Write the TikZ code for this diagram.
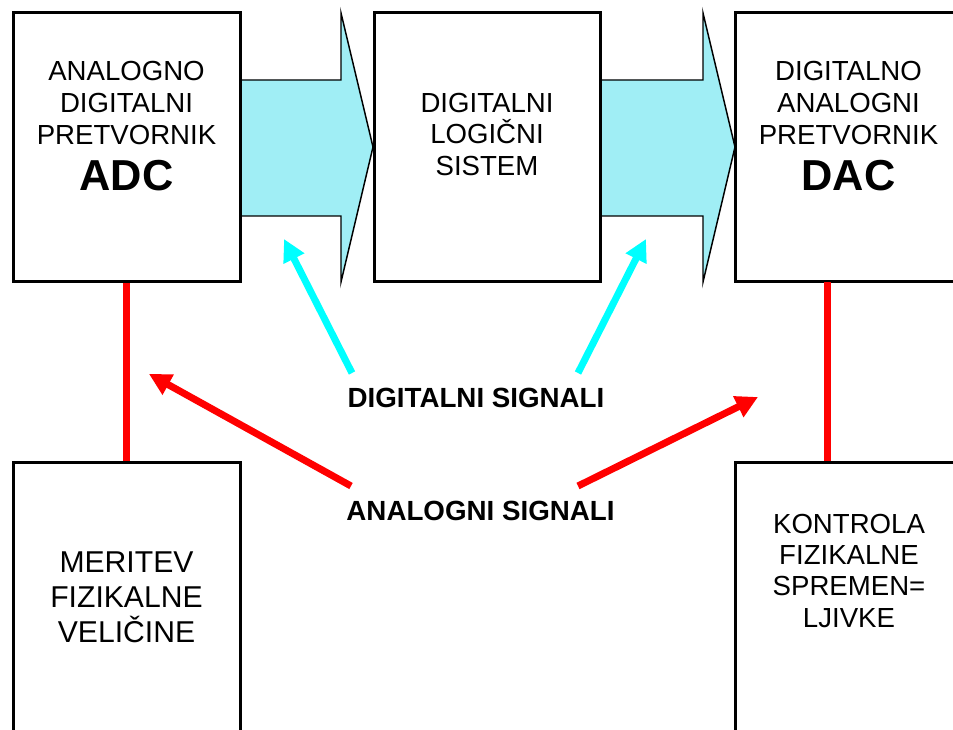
\documentclass[tikz,border=0pt]{standalone}
\usepackage{fontspec}
\setmainfont{Liberation Sans}
\usetikzlibrary{arrows.meta,fit}
\definecolor{arrfill}{RGB}{160,238,245}
\definecolor{pcyan}{RGB}{0,255,255}
\definecolor{pred}{RGB}{255,0,0}
\begin{document}
\begin{tikzpicture}[x=0.75pt,y=-0.75pt,
  box/.style={draw=black,line width=2.25pt,inner sep=0pt,fill=none},
  lbl/.style={inner sep=0pt,anchor=base,font=\fontsize{20.7}{24}\selectfont},
  lblbig/.style={inner sep=0pt,anchor=base,font=\fontsize{22.6}{26}\selectfont},
  big/.style={inner sep=0pt,anchor=base,font=\fontsize{32.5}{36}\selectfont\bfseries},
  sig/.style={inner sep=0pt,anchor=base,font=\fontsize{20.8}{24}\selectfont\bfseries},
  bigarrow/.style={draw=black,line width=1.1pt,fill=arrfill,line join=miter},
  redline/.style={draw=pred,line width=5.25pt},
  redarrow/.style={draw=pred,line width=5.25pt,-{Triangle[length=16.5pt,width=16.5pt]}},
  cyanarrow/.style={draw=pcyan,line width=5.25pt,-{Triangle[length=16.5pt,width=16.5pt]}}]
\useasboundingbox (0,0) rectangle (953,730);
\clip (0,0) rectangle (953,730);
\fill[white] (0,0) rectangle (953,730);

% big hollow arrows
\draw[bigarrow] (240,80) -- (341,80) -- (341,13) -- (373,147) -- (341,282) -- (341,216) -- (240,216) -- cycle;
\draw[bigarrow] (600,80) -- (703,80) -- (703,13) -- (735,147) -- (703,282) -- (703,216) -- (600,216) -- cycle;

% boxes
\node[box,fit={(13,13) (240,282)}] (adc) {};
\node[box,fit={(374,13) (600,282)}] (dls) {};
\node[box,fit={(735,13) (962,282)}] (dac) {};
\node[box,fit={(13,463) (240,745)}] (meas) {};
\node[box,fit={(735,463) (962,745)}] (ctrl) {};

% box texts
\node[lbl] (adc1) at (126.5,81) {ANALOGNO};
\node[lbl] (adc2) at (126.5,113) {DIGITALNI};
\node[lbl] (adc3) at (126.5,144.5) {PRETVORNIK};
\node[big] (adc4) at (126.5,191) {ADC};

\node[lbl] (dls1) at (487,112.5) {DIGITALNI};
\node[lbl] (dls2) at (487,144) {LOGIČNI};
\node[lbl] (dls3) at (487,175.5) {SISTEM};

\node[lbl] (dac1) at (848.5,81) {DIGITALNO};
\node[lbl] (dac2) at (848.5,113) {ANALOGNI};
\node[lbl] (dac3) at (848.5,144.5) {PRETVORNIK};
\node[big] (dac4) at (848.5,191) {DAC};

\node[lblbig] (meas1) at (126.5,572) {MERITEV};
\node[lblbig] (meas2) at (126.5,607) {FIZIKALNE};
\node[lblbig] (meas3) at (126.5,642) {VELIČINE};

\node[lbl] (ctrl1) at (849,533) {KONTROLA};
\node[lbl] (ctrl2) at (849,564) {FIZIKALNE};
\node[lbl] (ctrl3) at (849,595.5) {SPREMEN=};
\node[lbl] (ctrl4) at (849,627) {LJIVKE};

% signal labels
\node[sig] (dig) at (476,408) {DIGITALNI SIGNALI};
\node[sig] (ana) at (480.5,521) {ANALOGNI SIGNALI};

% red vertical connectors
\draw[redline] (adc.south) -- (meas.north);
\coordinate (dacport) at (827,282);
\draw[redline] (dacport) -- (dacport |- ctrl.north);

% pointer arrows
\coordinate (c1s) at (352,373);
\coordinate (c1e) at (284,239);
\coordinate (c2s) at (578,373);
\coordinate (c2e) at (646,239);
\coordinate (r1s) at (351,486);
\coordinate (r1e) at (149,374);
\coordinate (r2s) at (578,486);
\coordinate (r2e) at (758,397);
\draw[cyanarrow] (c1s) -- (c1e);
\draw[cyanarrow] (c2s) -- (c2e);
\draw[redarrow] (r1s) -- (r1e);
\draw[redarrow] (r2s) -- (r2e);
\end{tikzpicture}
\end{document}
